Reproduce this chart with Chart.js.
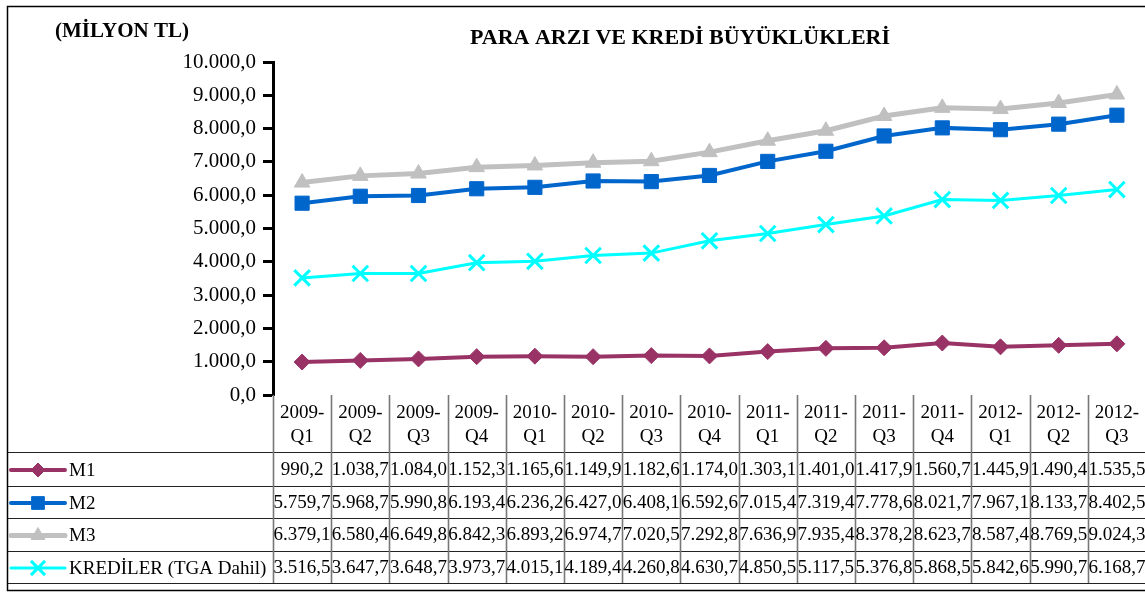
<!DOCTYPE html>
<html>
<head>
<meta charset="utf-8">
<script src="https://cdn.jsdelivr.net/npm/chart.js@4.4.1/dist/chart.umd.min.js"></script>
<style>
  body { margin: 0; background: #fff; overflow: hidden; }
  #ChartPara { display: block; }
</style>
</head>
<body>
<canvas id="ChartPara" width="1160" height="592"></canvas>
<script>
const Periodos = ['2009-Q1', '2009-Q2', '2009-Q3', '2009-Q4', '2010-Q1', '2010-Q2', '2010-Q3', '2010-Q4',
    '2011-Q1', '2011-Q2', '2011-Q3', '2011-Q4', '2012-Q1', '2012-Q2', '2012-Q3'];
const M1 = [990.2, 1038.7, 1084.0, 1152.3, 1165.6, 1149.9, 1182.6, 1174.0, 1303.1, 1401.0, 1417.9, 1560.7, 1445.9, 1490.4, 1535.5];
const M2 = [5759.7, 5968.7, 5990.8, 6193.4, 6236.2, 6427.0, 6408.1, 6592.6, 7015.4, 7319.4, 7778.6, 8021.7, 7967.1, 8133.7, 8402.5];
const M3 = [6379.1, 6580.4, 6649.8, 6842.3, 6893.2, 6974.7, 7020.5, 7292.8, 7636.9, 7935.4, 8378.2, 8623.7, 8587.4, 8769.5, 9024.3];
const Krediler = [3516.5, 3647.7, 3648.7, 3973.7, 4015.1, 4189.4, 4260.8, 4630.7, 4850.5, 5117.5, 5376.8, 5868.5, 5842.6, 5990.7, 6168.7];
const Series = ['M1', 'M2', 'M3', 'KREDİLER (TGA Dahil)'];

const Serif = '"Liberation Serif", "Times New Roman", serif';

// 1.038,7 style
const FormatNumber = (v) => {
    const parts = v.toFixed(1).split('.');
    return parts[0].replace(/\B(?=(\d{3})+(?!\d))/g, '.') + ',' + parts[1];
};

const TablaPlugin = {
    id: 'tabla',
    afterDraw(chart) {
        const ctx = chart.ctx;
        const x = chart.scales.x;
        const area = chart.chartArea;
        const colW = (area.right - area.left) / Periodos.length;
        const right = area.right + 2;
        const rows = [452, 486, 518, 551, 583];

        ctx.save();

        // titulos
        ctx.fillStyle = '#000';
        ctx.font = 'bold 21px ' + Serif;
        ctx.textBaseline = 'alphabetic';
        ctx.textAlign = 'left';
        ctx.fillText('(MİLYON TL)', 55, 37);
        ctx.font = 'bold 22px ' + Serif;
        ctx.textAlign = 'center';
        ctx.fillText('PARA ARZI VE KREDİ BÜYÜKLÜKLERİ', 680, 44);

        // marco
        ctx.strokeStyle = '#000';
        ctx.lineWidth = 1.5;
        ctx.beginPath();
        ctx.moveTo(right + 20, 6.5);
        ctx.lineTo(7.5, 6.5);
        ctx.lineTo(7.5, 590.5);
        ctx.lineTo(right + 20, 590.5);
        ctx.stroke();

        // lineas horizontales
        ctx.lineWidth = 1.2;
        ctx.strokeStyle = '#222';
        rows.forEach(y => {
            ctx.beginPath();
            ctx.moveTo(8, y + 0.5);
            ctx.lineTo(right, y + 0.5);
            ctx.stroke();
        });

        // lineas verticales
        ctx.strokeStyle = '#777';
        ctx.lineWidth = 1.6;
        for (let i = 0; i <= Periodos.length; i++) {
            const cx = Math.round(area.left + colW * i) + 0.5;
            ctx.beginPath();
            ctx.moveTo(cx, area.bottom);
            ctx.lineTo(cx, rows[rows.length - 1]);
            ctx.stroke();
        }

        // encabezados
        ctx.fillStyle = '#000';
        ctx.font = '19px ' + Serif;
        ctx.textAlign = 'center';
        ctx.textBaseline = 'middle';
        Periodos.forEach((p, i) => {
            const px = x.getPixelForValue(i);
            const partes = p.split('-');
            ctx.fillText(partes[0] + '-', px, 413);
            ctx.fillText(partes[1], px, 437);
        });

        // valores
        const datos = chart.data.datasets;
        datos.forEach((ds, r) => {
            const cy = (rows[r] + rows[r + 1]) / 2 + 1;
            ctx.fillStyle = '#000';
            ds.data.forEach((v, i) => {
                ctx.fillText(FormatNumber(v), x.getPixelForValue(i), cy);
            });

            // leyenda
            ctx.strokeStyle = ds.borderColor;
            ctx.lineWidth = ds.borderWidth;
            ctx.lineCap = 'round';
            ctx.beginPath();
            ctx.moveTo(11, cy);
            ctx.lineTo(65, cy);
            ctx.stroke();
            ctx.lineCap = 'butt';
            ctx.fillStyle = ds.pointBackgroundColor;
            ctx.strokeStyle = ds.borderColor;
            ctx.lineWidth = ds.pointBorderWidth;
            Chart.helpers.drawPoint(ctx, {
                pointStyle: ds.pointStyle,
                radius: ds.pointRadius - 1,
                borderWidth: ds.pointBorderWidth,
                rotation: 0
            }, 38, cy);
            ctx.fillStyle = '#000';
            ctx.textAlign = 'left';
            ctx.fillText(Series[r], 69, cy + 1);
            ctx.textAlign = 'center';
        });

        ctx.restore();
    }
};

const ctxPara = document.getElementById('ChartPara');
const ChartPara = new Chart(ctxPara, {
    type: 'line',
    data: {
        labels: Periodos,
        datasets: [{
            label: Series[0],
            data: M1,
            borderColor: '#993366',
            backgroundColor: '#993366',
            pointBackgroundColor: '#993366',
            borderWidth: 4,
            pointStyle: 'rectRot',
            pointRadius: 8,
            pointBorderWidth: 1
        }, {
            label: Series[1],
            data: M2,
            borderColor: '#0066CC',
            backgroundColor: '#0066CC',
            pointBackgroundColor: '#0066CC',
            borderWidth: 4,
            pointStyle: 'rect',
            pointRadius: 10,
            pointBorderWidth: 1
        }, {
            label: Series[2],
            data: M3,
            borderColor: '#C0C0C0',
            backgroundColor: '#C0C0C0',
            pointBackgroundColor: '#C0C0C0',
            borderWidth: 5,
            pointStyle: 'triangle',
            pointRadius: 9,
            pointBorderWidth: 1
        }, {
            label: Series[3],
            data: Krediler,
            borderColor: '#00FFFF',
            backgroundColor: '#00FFFF',
            pointBackgroundColor: '#00FFFF',
            borderWidth: 3,
            pointStyle: 'crossRot',
            pointRadius: 11,
            pointBorderWidth: 3
        }]
    },
    options: {
        responsive: false,
        devicePixelRatio: 1,
        animation: false,
        layout: {
            padding: { top: 62, left: 0, right: 13, bottom: 197 }
        },
        plugins: {
            legend: { display: false },
            title: { display: false },
            tooltip: { enabled: false }
        },
        elements: {
            line: { tension: 0 }
        },
        scales: {
            x: {
                type: 'category',
                display: false,
                offset: true
            },
            y: {
                min: 0,
                max: 10000,
                afterFit: (scale) => { scale.width = 273; },
                border: { display: true, width: 3, color: '#000' },
                grid: {
                    drawOnChartArea: false,
                    drawTicks: true,
                    tickLength: 10,
                    tickWidth: 3,
                    tickColor: '#000'
                },
                ticks: {
                    stepSize: 1000,
                    padding: 7,
                    color: '#000',
                    font: { family: Serif, size: 21 },
                    callback: (v) => FormatNumber(v)
                }
            }
        }
    },
    plugins: [TablaPlugin]
});
</script>
</body>
</html>
